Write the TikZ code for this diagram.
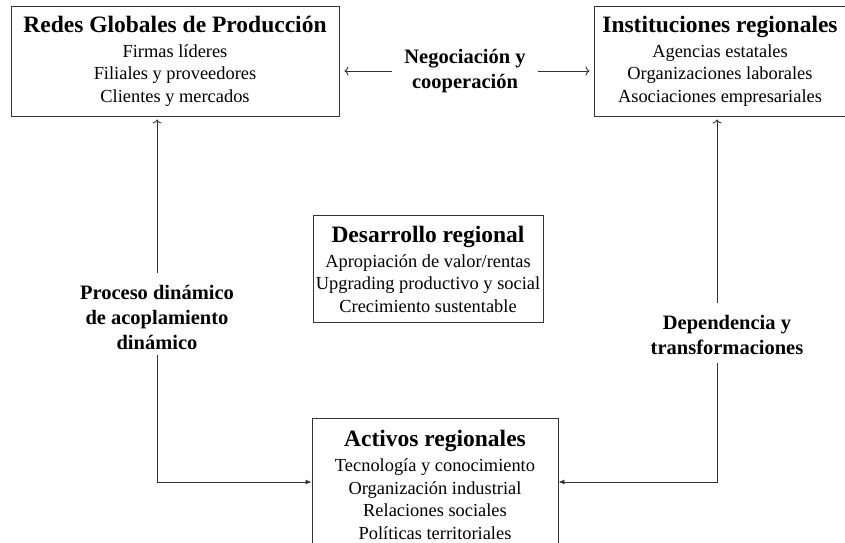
\documentclass[tikz,border=0pt]{standalone}
\usepackage{fontspec}
\setmainfont{Liberation Serif}
\usetikzlibrary{arrows.meta,positioning}

\begin{document}
\begin{tikzpicture}[x=1pt,y=-1pt,
        caja/.style={draw=black!80,line width=0.9pt,align=center,inner sep=0pt,
          font=\fontsize{18.4}{22.5}\selectfont},
        etiq/.style={align=center,inner sep=0pt,
          font=\bfseries\fontsize{20.5}{25}\selectfont},
        flecha/.style={draw=black!80,line width=0.9pt,-{To[length=4pt,width=9pt]}},
        flechallena/.style={draw=black!80,line width=0.9pt,-{Latex[length=6pt,width=5pt]}}]
        \clip (0,0) rectangle (845,542);
        \useasboundingbox (0,0) rectangle (845,542);
        \def\titulo#1{\textbf{\fontsize{23.5}{26}\selectfont #1}\\[2.5pt]}
        % cajas
        \node[caja,minimum width=328pt,minimum height=110pt] (redes) at (175,61)
          {\titulo{Redes Globales de Producción}Firmas líderes\\Filiales y proveedores\\Clientes y mercados};
        \node[caja,minimum width=252pt,minimum height=110pt] (inst) at (720,61)
          {\titulo{Instituciones regionales}Agencias estatales\\Organizaciones laborales\\Asociaciones empresariales};
        \node[caja,minimum width=230pt,minimum height=107pt] (desa) at (428,269)
          {\titulo{Desarrollo regional}Apropiación de valor/rentas\\Upgrading productivo y social\\Crecimiento sustentable};
        \node[caja,minimum width=246pt,minimum height=134pt] (acti) at (435,485)
          {\titulo{Activos regionales}Tecnología y conocimiento\\Organización industrial\\Relaciones sociales\\Políticas territoriales};
        % etiquetas
        \node[etiq] (nego) at (465,71) {Negociación y\\cooperación};
        \node[etiq] (proc) at (157,317) {Proceso dinámico\\de acoplamiento\\dinámico};
        \node[etiq] (depe) at (727,335) {Dependencia y\\transformaciones};
        \coordinate (esqi) at (157,482);
        \coordinate (esqd) at (717,482);
        % flechas
        \draw[flecha,shorten >=5pt] (nego.west) ++(-12pt,0) -- (nego.west -| redes.east);
        \draw[flecha,shorten >=4pt] (nego.east) ++(12pt,0) -- (nego.east -| inst.west);
        \draw[flecha,shorten >=3pt] (proc.north) ++(0,12pt) -- (proc.north |- redes.south);
        \draw[flechallena] (proc.south) ++(0,-6pt) -- (esqi) -- (esqi -| acti.west);
        \draw[flecha,shorten >=3pt] (esqd |- depe.north) ++(0,12pt) -- (esqd |- inst.south);
        \draw[flechallena] (esqd |- depe.south) ++(0,-8pt) -- (esqd) -- (esqd -| acti.east);
\end{tikzpicture}
\end{document}
